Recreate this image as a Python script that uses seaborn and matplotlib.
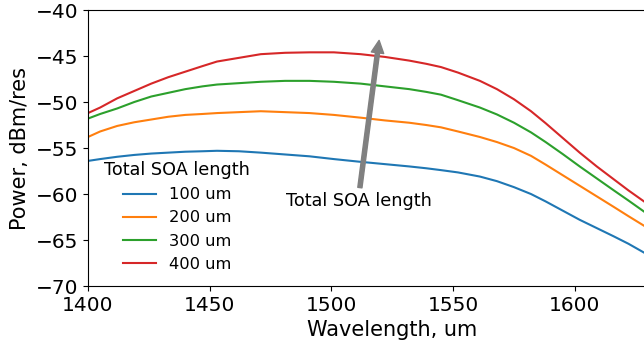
import pandas as pd
import seaborn as sns
import matplotlib.pyplot as plt

# values
wavelength = [1400, 1405, 1412, 1419, 1426, 1433, 1440, 1447, 1453, 1462,
              1471, 1481, 1491, 1501, 1512, 1522, 1532, 1539, 1545, 1552,
              1561, 1568, 1575, 1582, 1588, 1595, 1602, 1609, 1616, 1622, 1630]
p_100 = [-56.4, -56.2, -55.95, -55.75, -55.6, -55.5, -55.4, -55.35, -55.3, -55.35,
         -55.5, -55.7, -55.9, -56.2, -56.5, -56.75, -57.0, -57.2, -57.4, -57.65,
         -58.1, -58.6, -59.25, -60.0, -60.8, -61.8, -62.8, -63.7, -64.6, -65.4, -66.6]
p_200 = [-53.8, -53.2, -52.6, -52.2, -51.9, -51.6, -51.4, -51.3, -51.2, -51.1,
         -51.0, -51.1, -51.2, -51.4, -51.7, -52.0, -52.25, -52.5, -52.75, -53.2,
         -53.8, -54.35, -55.0, -55.85, -56.8, -57.95, -59.1, -60.25, -61.4, -62.4, -63.7]
p_300 = [-51.8, -51.3, -50.7, -50.0, -49.4, -49.0, -48.6, -48.3, -48.1, -47.95,
         -47.8, -47.7, -47.7, -47.8, -48.0, -48.3, -48.6, -48.9, -49.2, -49.8,
         -50.6, -51.35, -52.25, -53.3, -54.35, -55.65, -57.0, -58.3, -59.6, -60.7, -62.2]
p_400 = [-51.2, -50.6, -49.6, -48.8, -48.0, -47.3, -46.7, -46.1, -45.6, -45.2,
         -44.8, -44.65, -44.6, -44.6, -44.8, -45.1, -45.5, -45.85, -46.2, -46.8,
         -47.7, -48.6, -49.7, -51.0, -52.3, -53.9, -55.5, -57.0, -58.4, -59.6, -61.1]
labels = ["100 um", "200 um", "300 um", "400 um"]

frames = []
for lab, vals in zip(labels, [p_100, p_200, p_300, p_400]):
    frames.append(pd.DataFrame({"wl": wavelength, "power": vals, "Total SOA length": lab}))
df = pd.concat(frames)

fig = plt.figure(figsize=(6.44, 3.51), dpi=100)
ax = fig.add_axes([0.1366, 0.185, 0.945, 0.7865])

sns.lineplot(data=df, x="wl", y="power", hue="Total SOA length",
             palette="tab10", linewidth=1.5, ax=ax)

ax.set_xlim(1400, 1650)
ax.set_ylim(-70, -40)
ax.set_xticks([1400, 1450, 1500, 1550, 1600])
ax.set_yticks([-70, -65, -60, -55, -50, -45, -40])
ax.tick_params(labelsize=14.5)
ax.set_xlabel("Wavelength, um", fontsize=15)
ax.set_ylabel("Power, dBm/res", fontsize=15)

leg = ax.legend(title="Total SOA length", loc="lower left", frameon=False,
                fontsize=11.7, title_fontsize=12.7, borderaxespad=0.3,
                bbox_to_anchor=(0.008, 0.011))

# arrow showing the trend
ax.annotate("", xy=(1519.6, -43.3), xytext=(1511.7, -59.3),
            arrowprops=dict(facecolor="gray", edgecolor="gray", width=3,
                            headwidth=9, headlength=9))
ax.text(1511.3, -60.8, "Total SOA length", fontsize=12.7, ha="center", va="center")

fig.savefig("out.png", dpi=100)
